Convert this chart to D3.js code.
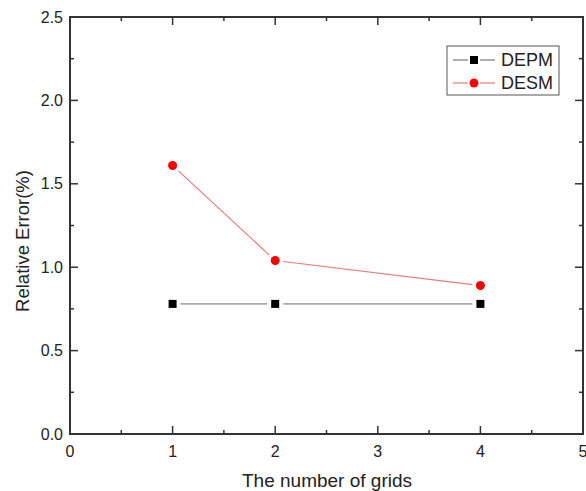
<!DOCTYPE html>
<html><head><meta charset="utf-8">
<script src="https://cdn.jsdelivr.net/npm/d3@7"></script>
<style>body{margin:0;background:#fff}svg{display:block}text{font-family:"Liberation Sans",Arial,sans-serif;fill:#222}</style>
</head><body>
<script>
const grids = [1, 2, 4];
const depm = [0.78, 0.78, 0.78];
const desm = [1.61, 1.04, 0.89];
const xTicks = [0, 1, 2, 3, 4, 5];
const yTicks = [0.0, 0.5, 1.0, 1.5, 2.0, 2.5];
const seriesNames = ["DEPM", "DESM"];

const W = 586, H = 491;
const L = 70, R = 583, T = 17, B = 434;
const svg = d3.select("body").append("svg").attr("width", W).attr("height", H);
const x = d3.scaleLinear().domain([0, 5]).range([L, R]);
const y = d3.scaleLinear().domain([0, 2.5]).range([B, T]);

const axisColor = "#333";
// ticks
const g = svg.append("g");
const xMinor = d3.range(0, 5.01, 0.5);
const yMinor = d3.range(0, 2.51, 0.25);
xMinor.forEach(v => {
  const major = Math.abs(v - Math.round(v)) < 1e-6;
  const len = major ? 8 : 4;
  g.append("line").attr("x1", x(v)).attr("x2", x(v)).attr("y1", B).attr("y2", B - len).attr("stroke", axisColor).attr("stroke-width", 1.5);
  g.append("line").attr("x1", x(v)).attr("x2", x(v)).attr("y1", T).attr("y2", T + len).attr("stroke", axisColor).attr("stroke-width", 1.5);
});
yMinor.forEach(v => {
  const major = Math.abs(v * 2 - Math.round(v * 2)) < 1e-6;
  const len = major ? 8 : 4;
  g.append("line").attr("y1", y(v)).attr("y2", y(v)).attr("x1", L).attr("x2", L + len).attr("stroke", axisColor).attr("stroke-width", 1.5);
  g.append("line").attr("y1", y(v)).attr("y2", y(v)).attr("x1", R).attr("x2", R - len).attr("stroke", axisColor).attr("stroke-width", 1.5);
});
svg.append("rect").attr("x", L).attr("y", T).attr("width", R - L).attr("height", B - T)
  .attr("fill", "none").attr("stroke", axisColor).attr("stroke-width", 2);

// tick labels
xTicks.forEach(v => {
  svg.append("text").attr("x", x(v)).attr("y", 451).attr("text-anchor", "middle").attr("dominant-baseline", "central")
    .attr("font-size", 16).text(v);
});
yTicks.forEach(v => {
  svg.append("text").attr("x", 63).attr("y", y(v)).attr("text-anchor", "end").attr("dominant-baseline", "central")
    .attr("font-size", 16).text(v.toFixed(1));
});
svg.append("text").attr("x", 327).attr("y", 480).attr("text-anchor", "middle").attr("dominant-baseline", "central")
  .attr("font-size", 19).text("The number of grids");
svg.append("text").attr("transform", `translate(22,241) rotate(-90)`).attr("text-anchor", "middle")
  .attr("dominant-baseline", "central").attr("font-size", 18.5).text("Relative Error(%)");

// series lines with gaps at markers
function gappedLine(xs, ys, color, width, gap) {
  for (let i = 0; i < xs.length - 1; i++) {
    const x1 = x(xs[i]), y1 = y(ys[i]), x2 = x(xs[i + 1]), y2 = y(ys[i + 1]);
    const d = Math.hypot(x2 - x1, y2 - y1), ux = (x2 - x1) / d, uy = (y2 - y1) / d;
    svg.append("line").attr("x1", x1 + ux * gap).attr("y1", y1 + uy * gap)
      .attr("x2", x2 - ux * gap).attr("y2", y2 - uy * gap)
      .attr("stroke", color).attr("stroke-width", width);
  }
}
const depmLine = "#aaaaaa", desmLine = "#e77a7a";
gappedLine(grids, depm, depmLine, 1.6, 8);
gappedLine(grids, desm, desmLine, 1.2, 8);
svg.selectAll(".sq").data(grids).enter().append("rect")
  .attr("x", (d) => x(d) - 4).attr("y", (d, i) => y(depm[i]) - 4).attr("width", 8).attr("height", 8).attr("fill", "#000");
svg.selectAll(".ci").data(grids).enter().append("circle")
  .attr("cx", d => x(d)).attr("cy", (d, i) => y(desm[i])).attr("r", 4.5).attr("fill", "#f00");

// legend
const lg = svg.append("g");
lg.append("rect").attr("x", 447).attr("y", 46).attr("width", 112).attr("height", 49)
  .attr("fill", "#fff").attr("stroke", "#555").attr("stroke-width", 1);
const ly = [60, 83];
ly.forEach((yy, i) => {
  lg.append("line").attr("x1", 453).attr("x2", 468).attr("y1", yy).attr("y2", yy).attr("stroke", i ? desmLine : "#777").attr("stroke-width", 1.2);
  lg.append("line").attr("x1", 480).attr("x2", 495).attr("y1", yy).attr("y2", yy).attr("stroke", i ? desmLine : "#777").attr("stroke-width", 1.2);
  if (i === 0) lg.append("rect").attr("x", 470).attr("y", yy - 4).attr("width", 8).attr("height", 8).attr("fill", "#000");
  else lg.append("circle").attr("cx", 474).attr("cy", yy).attr("r", 4.5).attr("fill", "#f00");
  lg.append("text").attr("x", 501).attr("y", yy).attr("dominant-baseline", "central").attr("font-size", 18).text(seriesNames[i]);
});
</script>
</body></html>
